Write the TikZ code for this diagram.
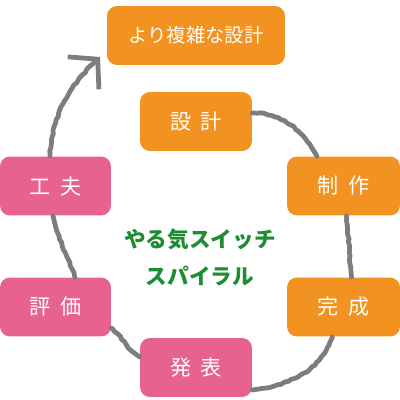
\documentclass[tikz,border=0pt]{standalone}
\usepackage{fontspec}
\newfontfamily\cjk{Noto Sans CJK JP}
\usetikzlibrary{arrows.meta,decorations.pathmorphing}
\definecolor{boxorange}{RGB}{242,146,32}
\definecolor{boxpink}{RGB}{232,98,142}
\definecolor{titlegreen}{RGB}{30,140,50}
\definecolor{chalkgray}{RGB}{125,125,125}
\tikzset{
  box/.style={rounded corners=0.2cm, minimum height=1.18cm, text=white, inner sep=0pt,
    font=\cjk\fontsize{12pt}{14pt}\selectfont},
  obox/.style={box, fill=boxorange},
  pbox/.style={box, fill=boxpink},
  chalk/.style={draw=chalkgray, line width=2.7pt, line cap=round, line join=round,
    decoration={random steps, segment length=2pt, amplitude=0.4pt, pre length=1pt, post length=6pt}, decorate},
}
\begin{document}
\begin{tikzpicture}[x=0.02cm, y=-0.02cm]
\useasboundingbox (0,0) rectangle (400,400);
\node[obox, minimum width=3.56cm, font=\cjk\fontsize{11pt}{13pt}\selectfont] (top) at (196,35.5) {より複雑な設計};
\node[obox, minimum width=2.24cm] (sekkei) at (196,121.5) {設\hspace{0.45em}計};
\node[obox, minimum width=2.26cm] (seisaku) at (343.5,186) {制\hspace{0.45em}作};
\node[obox, minimum width=2.26cm] (kansei) at (343.5,307) {完\hspace{0.45em}成};
\node[pbox, minimum width=2.24cm] (happyou) at (196,367.5) {発\hspace{0.45em}表};
\node[pbox, minimum width=2.22cm] (hyouka) at (55.5,307) {評\hspace{0.45em}価};
\node[pbox, minimum width=2.22cm] (kufu) at (55.5,186) {工\hspace{0.45em}夫};
\node[text=titlegreen, align=center, font=\cjk\bfseries\fontsize{12.3pt}{21pt}\selectfont] (title) at (200,257.5) {やる気スイッチ\\スパイラル};
\coordinate (tip) at (100,57);
\draw[chalk] ([yshift=0.17cm]sekkei.east) to[out=0,in=120] ([xshift=-0.53cm]seisaku.north);
\draw[chalk] ([xshift=0.06cm]seisaku.south) to[out=-85,in=95] ([xshift=0.16cm]kansei.north);
\draw[chalk] ([xshift=-0.22cm]kansei.south) to[out=-110,in=8] ([yshift=-0.45cm]happyou.east);
\draw[chalk] ([yshift=-0.42cm]hyouka.east) to[out=-38,in=150] ([yshift=0.21cm]happyou.west);
\draw[chalk] ([xshift=0.39cm]hyouka.north) to[out=110,in=-78] ([xshift=-0.05cm]kufu.south);
\draw[chalk, -{Straight Barb[length=0.4cm,width=0.9cm]}] ([xshift=-0.11cm]kufu.north) to[out=86,in=-137] (tip);
\end{tikzpicture}
\end{document}
